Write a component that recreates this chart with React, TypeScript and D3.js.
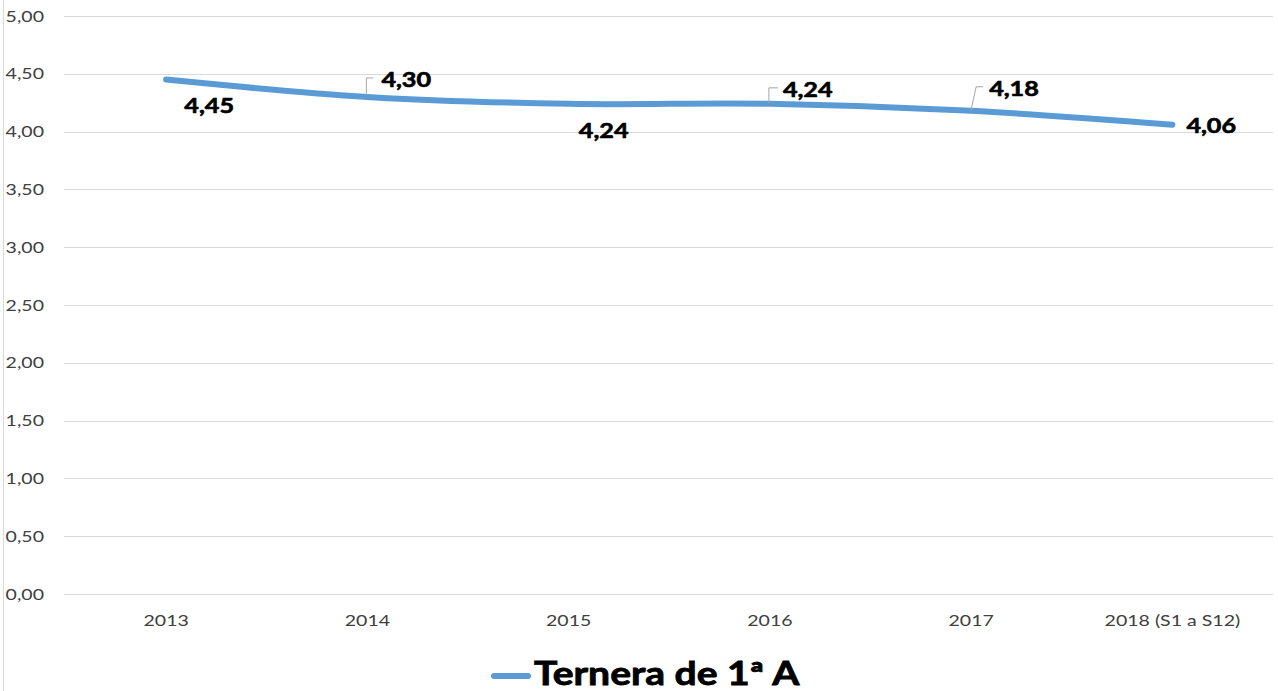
import React, { useEffect, useRef } from "react";
import * as d3 from "d3";

const years = ["2013", "2014", "2015", "2016", "2017", "2018 (S1 a S12)"];
const values = [4.45, 4.3, 4.24, 4.24, 4.18, 4.06];
const yTicks = [0, 0.5, 1, 1.5, 2, 2.5, 3, 3.5, 4, 4.5, 5];
const seriesName = "Ternera de 1ª A";

// label placement relative to the point (Excel moved them by hand)
const labelPos = [
  { dx: 43, dy: 33, anchor: "middle", leader: null },
  { dx: 14, dy: -10, anchor: "start", leader: [[-1, -2], [-1, -19], [6, -19]] },
  { dx: 35, dy: 34, anchor: "middle", leader: null },
  { dx: 13, dy: -7, anchor: "start", leader: [[-1, -1], [-1, -16], [8, -16]] },
  { dx: 18, dy: -15, anchor: "start", leader: [[0, -1], [5, -24], [12, -24]] },
  { dx: 14, dy: 8, anchor: "start", leader: null },
];

const W = 1278;
const H = 691;
const SX = 1.26; // source picture is stretched sideways
const font = "Lato, 'Open Sans', sans-serif";
const fmt = (v: number) => v.toFixed(2).replace(".", ",");

export default function App() {
  const svgRef = useRef<SVGSVGElement>(null);

  useEffect(() => {
    const svg = d3.select(svgRef.current);
    svg.selectAll("*").remove();

    const x = d3.scalePoint().domain(years).range([65.5, 1273]).padding(0.5);
    const y = d3.scaleLinear().domain([0, 5]).range([594, 16]);

    // frame line on the left
    svg.append("line")
      .attr("x1", 3.5).attr("x2", 3.5).attr("y1", 0).attr("y2", H)
      .attr("stroke", "#d9d9d9").attr("stroke-width", 1);

    // grid
    svg.append("g")
      .selectAll("line")
      .data(yTicks)
      .join("line")
      .attr("x1", 64).attr("x2", 1273)
      .attr("y1", (d) => Math.round(y(d)) + 0.5)
      .attr("y2", (d) => Math.round(y(d)) + 0.5)
      .attr("stroke", "#d9d9d9").attr("stroke-width", 1);

    // y tick labels
    svg.append("g")
      .selectAll("text")
      .data(yTicks)
      .join("text")
      .attr("transform", (d) => `translate(44,${y(d) + 5.5}) scale(${SX},1)`)
      .attr("text-anchor", "end")
      .attr("font-family", font).attr("font-size", 15.5)
      .attr("fill", "#404040")
      .text((d) => fmt(d));

    // x labels
    svg.append("g")
      .selectAll("text")
      .data(years)
      .join("text")
      .attr("transform", (d) => `translate(${x(d)},${626}) scale(${SX},1)`)
      .attr("text-anchor", "middle")
      .attr("font-family", font).attr("font-size", 15.5)
      .attr("fill", "#404040")
      .text((d) => d);

    // series line
    const line = d3.line<number>()
      .x((d, i) => x(years[i]) as number)
      .y((d) => y(d))
      .curve(d3.curveCatmullRom.alpha(0.5));

    svg.append("path")
      .datum(values)
      .attr("d", line)
      .attr("fill", "none")
      .attr("stroke", "#5b9bd5")
      .attr("stroke-width", 6)
      .attr("stroke-linecap", "round")
      .attr("stroke-linejoin", "round");

    // leader lines
    values.forEach((v, i) => {
      const p = labelPos[i];
      if (!p.leader) return;
      const px = x(years[i]) as number;
      const py = y(v);
      svg.append("path")
        .attr("d", d3.line()(p.leader.map(([a, b]) => [px + a, py + b] as [number, number])))
        .attr("fill", "none")
        .attr("stroke", "#a6a6a6")
        .attr("stroke-width", 1);
    });

    // data labels
    svg.append("g")
      .selectAll("text")
      .data(values)
      .join("text")
      .attr("transform", (d, i) =>
        `translate(${(x(years[i]) as number) + labelPos[i].dx},${y(d) + labelPos[i].dy}) scale(${SX},1)`)
      .attr("text-anchor", (d, i) => labelPos[i].anchor)
      .attr("font-family", font).attr("font-size", 20)
      .attr("font-weight", "bold")
      .attr("fill", "#000")
      .attr("stroke", "#000").attr("stroke-width", 0.6)
      .text((d) => fmt(d));

    // legend
    const lg = svg.append("g");
    lg.append("line")
      .attr("x1", 494).attr("x2", 528).attr("y1", 676).attr("y2", 676)
      .attr("stroke", "#5b9bd5").attr("stroke-width", 6)
      .attr("stroke-linecap", "round");
    lg.append("text")
      .attr("transform", `translate(534,685) scale(1.22,1)`)
      .attr("font-family", font).attr("font-size", 32)
      .attr("font-weight", "bold")
      .attr("fill", "#000")
      .attr("stroke", "#000").attr("stroke-width", 0.8)
      .text(seriesName);
  }, []);

  return (
    <svg
      ref={svgRef}
      width={W}
      height={H}
      style={{ position: "absolute", left: 0, top: 0, background: "#fff" }}
    />
  );
}
